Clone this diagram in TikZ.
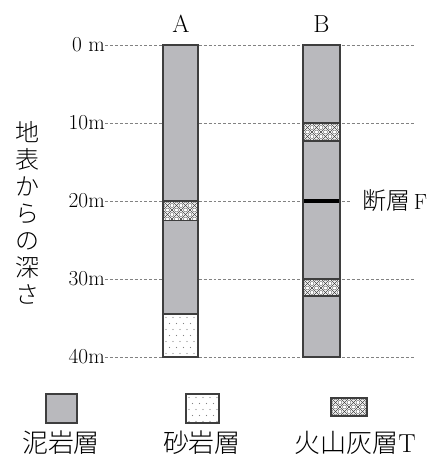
\documentclass[tikz,border=0pt]{standalone}
\usepackage{fontspec}
\newfontfamily\jpfont[UprightFont={* Light}]{Noto Sans CJK JP}
\usetikzlibrary{positioning}
\definecolor{mudgray}{RGB}{185,185,189}
\definecolor{edgegray}{RGB}{62,62,62}
\definecolor{guidegray}{RGB}{130,130,130}

% dotted fill for the sandstone
\newcommand{\sandfill}[4]{%
  \begin{scope}
    \clip (#1,#2) rectangle (#3,#4);
    \foreach \i in {0,...,6}
    {
      \foreach \j in {0,...,9}
      {
        \fill[guidegray] ({#1+3+7*\i+3.5*mod(\j,2)},{#2+3.5+6*\j}) circle (0.55pt);
      }
    }
  \end{scope}
}
% cross-hatch with rings for the ash
\newcommand{\ashfill}[4]{%
  \begin{scope}
    \clip (#1,#2) rectangle (#3,#4);
    \foreach \i in {-4,...,8}
    {
      \draw[edgegray, line width=0.35pt] ({#1+9*\i},#2) -- ++(30,30);
      \draw[edgegray, line width=0.35pt] ({#1+9*\i},#2) -- ++(-30,30);
      \foreach \j in {0,...,5}
      {
        \draw[edgegray, line width=0.25pt] ({#1+9*\i+4.5*mod(\j+1,2)},{#2+4.5*\j}) circle (1.5pt);
      }
    }
  \end{scope}
}

\begin{document}
\begin{tikzpicture}[x=0.75pt, y=-0.75pt,
    mud/.style={fill=mudgray},
    edge/.style={draw=edgegray, line width=1.1pt},
    guide/.style={draw=guidegray, line width=0.6pt, dash pattern=on 2.2pt off 1.5pt},
    depth/.style={anchor=east, inner sep=0pt, font=\fontsize{16}{16}\selectfont},
    well/.style={font=\fontsize{18.5}{18.5}\selectfont},
    legend/.style={font=\jpfont\fontsize{19.5}{19.5}\selectfont}]
    \useasboundingbox (0,0) rectangle (446,462);

    % Depth labels and guide lines
    \foreach \n/\y/\t in {0/45/{0 m}, 10/123/10m, 30/279/30m, 40/357/40m}
    {
        \node[depth] (d\n) at (105,\y) {\t};
        \draw[guide] (d\n.east) -- ++(310,0);
    }
    \node[depth] (d20) at (105,201) {20m};
    \node[anchor=west, inner sep=0pt, font=\fontsize{16.5}{16.5}\selectfont] (fault) at (362,201)
        {{\jpfont\fontsize{18}{18}\selectfont 断層}\,F};
    \draw[guide, shorten >=9pt] (d20.east) -- (fault.west);

    % Vertical axis title
    \node[align=center, inner sep=0pt, font=\jpfont\fontsize{18}{20.3}\selectfont] (axis) at (27.5,213)
        {地\\表\\か\\ら\\の\\深\\さ};

    % Well names
    \node[well] (A) at (181,24) {A};
    \node[well] (B) at (321.5,24) {B};

    % Column A
    \fill[mud] (163,45) rectangle (198,201);
    \ashfill{163}{201}{198}{220.5}
    \fill[mud] (163,220.5) rectangle (198,314);
    \sandfill{163}{314}{198}{357}
    \foreach \y in {201,220.5,314}
    {
        \draw[edge] (163,\y) -- (198,\y);
    }
    \draw[edge] (163,45) rectangle (198,357);

    % Column B
    \fill[mud] (303,45) rectangle (340,123);
    \ashfill{303}{123}{340}{141}
    \fill[mud] (303,141) rectangle (340,279);
    \ashfill{303}{279}{340}{296}
    \fill[mud] (303,296) rectangle (340,357);
    \foreach \y in {123,141,279,296}
    {
        \draw[edge] (303,\y) -- (340,\y);
    }
    % fault F
    \draw[line width=3pt] (303,201) -- (340,201);
    \draw[edge] (303,45) rectangle (340,357);

    % Legend
    \fill[mud] (46,394) rectangle (77,423);
    \draw[edge] (46,394) rectangle (77,423);
    \sandfill{186}{394}{219}{423}
    \draw[edge, line width=0.8pt] (186,394) rectangle (219,423);
    \ashfill{331}{398}{367}{416}
    \draw[edge, line width=0.8pt] (331,398) rectangle (367,416);
    \node[legend] (mudtext) at (61,443) {泥岩層};
    \node[legend] (sandtext) at (202,443) {砂岩層};
    \node[legend] (ashtext) at (355,443) {火山灰層{\rmfamily T}};
\end{tikzpicture}
\end{document}
